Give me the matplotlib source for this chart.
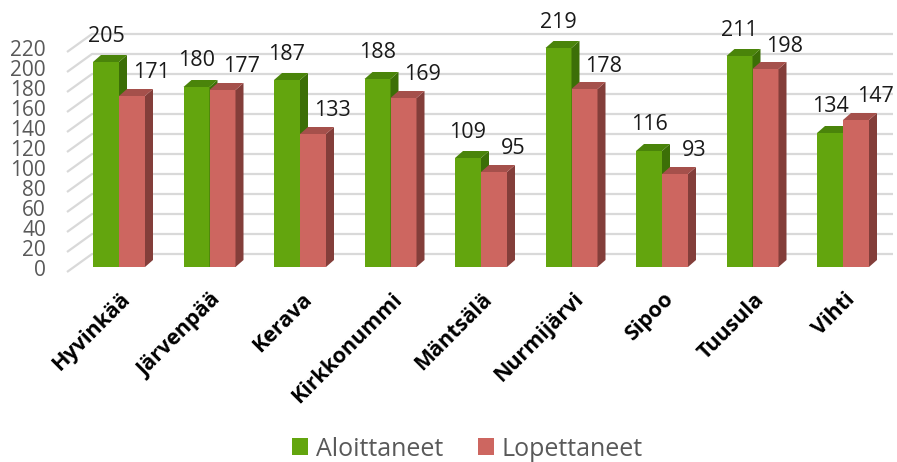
import matplotlib.pyplot as plt
from matplotlib.patches import Polygon, Rectangle, Patch

plt.rcParams["font.family"] = ["Open Sans", "DejaVu Sans"]

municipalities = ["Hyvinkää", "Järvenpää", "Kerava", "Kirkkonummi", "Mäntsälä",
                  "Nurmijärvi", "Sipoo", "Tuusula", "Vihti"]
started = [205, 180, 187, 188, 109, 219, 116, 211, 134]
finished = [171, 177, 133, 169, 95, 178, 93, 198, 147]
series_names = ["Aloittaneet", "Lopettaneet"]
y_ticks = list(range(0, 221, 20))

GREEN = ("#63a50e", "#4a840a", "#3c6f07")   # front, top, side
RED = ("#cd6660", "#a5504b", "#833e3a")

W, H = 897, 462
PITCH = 90.5          # px per category
X0 = 119              # px of first group centre
Y0 = 267              # px of value 0 on the bar front

fig = plt.figure(figsize=(W / 100, H / 100), dpi=100)
ax = fig.add_axes([0, 0, 1, 1])
ax.set_xlim(-X0 / PITCH, (W - X0) / PITCH)
ax.set_ylim(Y0 - H, Y0)
ax.axis("off")

bw = 26 / PITCH
dx, dy = 8 / PITCH, 7

# back wall gridlines with the floor diagonal
xl, xb, xr = (67 - X0) / PITCH, (92 - X0) / PITCH, (893 - X0) / PITCH
for v in y_ticks:
    ax.plot([xl, xb, xr], [v - 5, v + 13, v + 13], color="#d9d9d9", lw=1.6,
            solid_capstyle="butt", zorder=0)
    ax.text((46 - X0) / PITCH, v - 3, str(v), ha="right", va="center",
            fontsize=15, color="#595959")


def draw_bar(x, v, colors):
    front, top, side = colors
    ax.add_patch(Rectangle((x, 0), bw, v, facecolor=front, edgecolor="none", zorder=2))
    ax.add_patch(Polygon([(x + bw, 0), (x + bw + dx, dy), (x + bw + dx, v + dy), (x + bw, v)],
                         closed=True, facecolor=side, edgecolor="none", zorder=2))
    ax.add_patch(Polygon([(x, v), (x + dx, v + dy), (x + bw + dx, v + dy), (x + bw, v)],
                         closed=True, facecolor=top, edgecolor="none", zorder=2))


for i, (g, r) in enumerate(zip(started, finished)):
    draw_bar(i - bw, g, GREEN)
    draw_bar(i, r, RED)
    ax.text(i - bw / 2, g + 26, str(g), ha="center", va="center", fontsize=15.5,
            color="#1a1a1a", zorder=3)
    ax.text(i + bw / 2 + 19 / PITCH, r + 23, str(r), ha="center", va="center",
            fontsize=15.5, color="#1a1a1a", zorder=3)
    ax.text(i + 1 / PITCH, -22, municipalities[i], rotation=45, rotation_mode="anchor",
            ha="right", va="top", fontsize=15.5, fontweight="bold", color="black")

handles = [Patch(facecolor=GREEN[0], label=series_names[0]),
           Patch(facecolor=RED[0], label=series_names[1])]
fig.legend(handles=handles, loc="center", bbox_to_anchor=(467.5 / W, 1 - 449 / H),
           ncol=2, frameon=False, fontsize=18, labelcolor="#595959",
           handlelength=0.65, handleheight=0.65, handletextpad=0.3, columnspacing=1.4)

fig.savefig("out.png", dpi=100)
